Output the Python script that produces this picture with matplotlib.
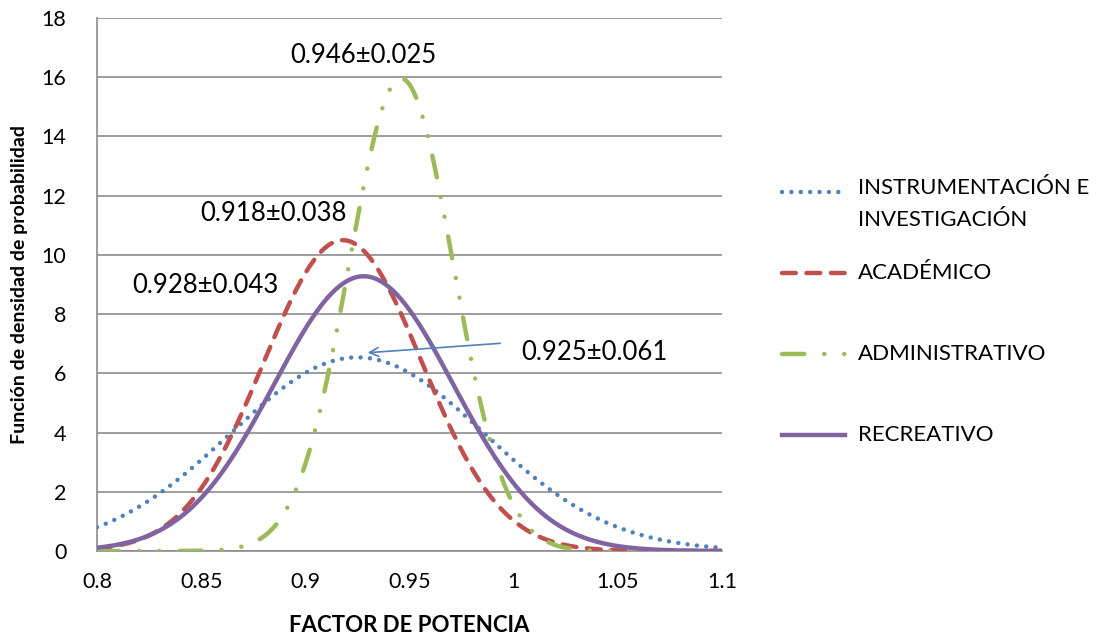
import numpy as np
import matplotlib
matplotlib.use("Agg")
import matplotlib.pyplot as plt
from matplotlib.lines import Line2D

plt.rcParams['font.family'] = ['Lato', 'DejaVu Sans']

# Series: mean and standard deviation of the power factor per building type
series = ["INSTRUMENTACIÓN E\nINVESTIGACIÓN", "ACADÉMICO", "ADMINISTRATIVO", "RECREATIVO"]
means = [0.925, 0.918, 0.946, 0.928]
stds = [0.061, 0.038, 0.025, 0.043]
colors = ["#4F81BD", "#C0504D", "#9BBB59", "#8064A2"]

x_ticks = [0.8, 0.85, 0.9, 0.95, 1.0, 1.05, 1.1]
x_tick_labels = ["0.8", "0.85", "0.9", "0.95", "1", "1.05", "1.1"]
y_ticks = [0, 2, 4, 6, 8, 10, 12, 14, 16, 18]

# annotation text positions (data coords)
labels = ["0.925±0.061", "0.918±0.038", "0.946±0.025", "0.928±0.043"]
label_pos = [(1.039, 6.72), (0.8845, 11.41), (0.9277, 16.75), (0.8518, 8.98)]

x = np.linspace(0.8, 1.1, 301)

W, H = 1106, 639
fig = plt.figure(figsize=(W / 100, H / 100), dpi=100)
ax = fig.add_axes([97/W, 1-551/H, 625/W, 533/H])

styles = [
    dict(linestyle=(0, (0.01, 2.1)), dash_capstyle='round', linewidth=3.2),
    dict(linestyle=(0, (3.1, 2.4)), dash_capstyle='round', linewidth=3.2),
    dict(linestyle=(0, (5.0, 4.5, 0.01, 4.5, 0.01, 4.5)), dash_capstyle='round', linewidth=3.2),
    dict(linestyle='-', linewidth=3.2),
]

# normal probability density for each series
for name, m, s, c, st in zip(series, means, stds, colors, styles):
    y = np.exp(-0.5 * ((x - m) / s) ** 2) / (s * np.sqrt(2 * np.pi))
    ax.plot(x, y, color=c, label=name, zorder=3, **st)

ax.set_xlim(0.8, 1.1)
ax.set_ylim(0, 18)
ax.set_xticks(x_ticks)
ax.set_xticklabels(x_tick_labels)
ax.set_yticks(y_ticks)
ax.tick_params(axis='both', length=0, labelsize=15.5)
ax.tick_params(axis='x', pad=15)
ax.tick_params(axis='y', pad=22)
ax.yaxis.grid(True, color='#8C8C8C', linewidth=1.2)
ax.set_axisbelow(True)
for side in ['top', 'right']:
    ax.spines[side].set_visible(False)
for side in ['left', 'bottom']:
    ax.spines[side].set_color('#8C8C8C')
    ax.spines[side].set_linewidth(1.2)

ax.set_xlabel("FACTOR DE POTENCIA", fontsize=16, fontweight='bold', labelpad=17)
ax.set_ylabel("Función de densidad de probabilidad", fontsize=14, fontweight='bold', labelpad=10)

for txt, (tx, ty) in zip(labels, label_pos):
    ax.text(tx, ty, txt, fontsize=18.5, ha='center', va='center', zorder=4)

# arrow pointing at the peak of the instrumentation curve
ax.annotate("", xy=(0.9286, 6.69), xytext=(0.9949, 7.02),
            arrowprops=dict(arrowstyle='->', color='#4F81BD', lw=1.2,
                            mutation_scale=16), zorder=4)

# legend drawn as individual entries on the figure
legend_rows = [192, 273, 354, 435]
for name, c, st, row in zip(series, colors, styles, legend_rows):
    yy = 1 - row / H
    fig.add_artist(Line2D([782/W, 845/W], [yy, yy], color=c, **st))
    if '\n' in name:
        fig.text(858/W, 1 - (row - 14) / H, name, fontsize=16, ha='left', va='top',
                 linespacing=1.75)
    else:
        fig.text(858/W, yy, name, fontsize=16, ha='left', va='center')

fig.savefig("out.png", dpi=100)
